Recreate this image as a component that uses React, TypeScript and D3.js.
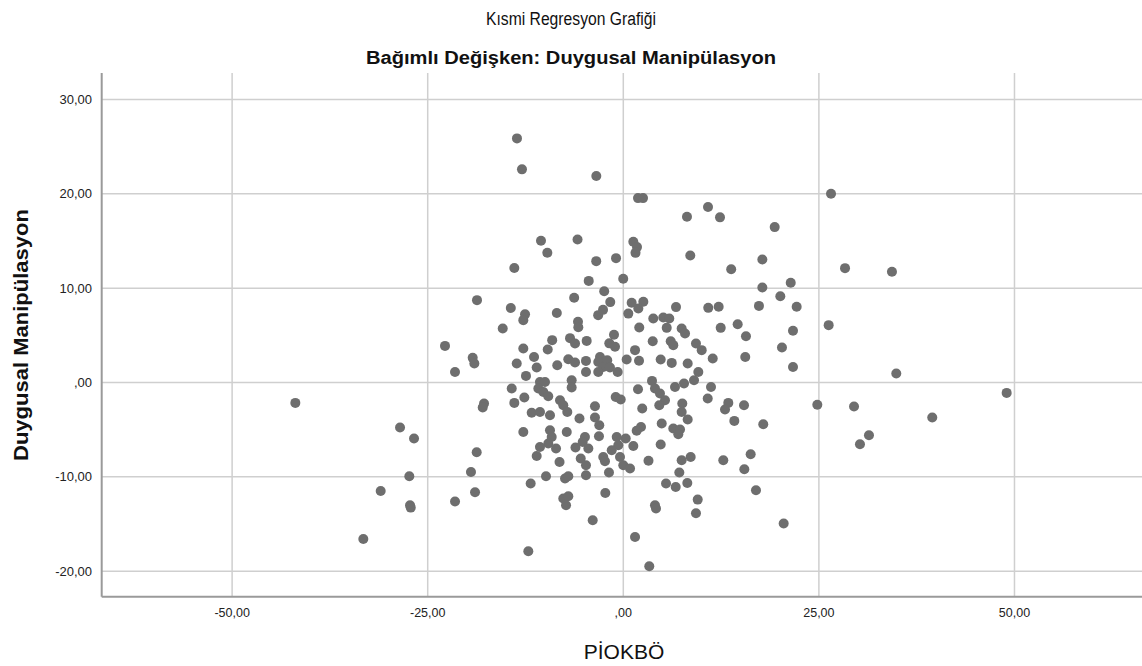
import React, { useEffect, useRef } from "react";
import * as d3 from "d3";

const titleText = "Kısmi Regresyon Grafiği";
const subtitleText = "Bağımlı Değişken: Duygusal Manipülasyon";
const xAxisTitle = "PİOKBÖ";
const yAxisTitle = "Duygusal Manipülasyon";

const xTicks = [-50, -25, 0, 25, 50];
const yTicks = [-20, -10, 0, 10, 20, 30];

// PİOKBÖ (partial residual)
const xValues = [
  -13.59, -12.95, -3.45, 1.88, 2.52, -10.52, -9.71, -5.85, -13.93, -3.46,
  -0.93, 1.28, 1.75, 1.56, -4.42, -0.01, -2.44, -1.67, -6.28, -18.7,
  -14.38, -12.56, -12.78, -8.5, -5.79, -5.75, -3.21, -2.59, 1.07, 2.56,
  1.92, 0.64, 2.04, -15.41, -1.19, -9.09, -6.81, -6.17, -4.68, -1.79,
  -1.06, 26.55, 8.14, 10.83, 12.36, 19.35, 8.56, 17.77, 13.79, 28.34,
  34.34, 17.77, 21.4, 20.07, 17.34, 22.16, 6.74, 10.86, 12.19, 3.83,
  5.11, 5.88, 5.55, 7.46, 7.89, 12.45, 14.62, 21.69, 26.25, 15.68,
  3.76, 6.06, 6.39, 9.29, 10.02, 20.28, 15.59, 21.69, 34.89, 2.01,
  4.78, 6.19, 8.23, 11.43, 9.59, 9.04, 3.67, 4.05, 4.69, 5.33,
  6.61, 7.76, 11.21, 10.79, 1.88, 2.42, 4.6, 7.54, 7.46, 8.23,
  13.42, 13.0, 15.43, 24.8, 29.49, 14.19, 17.89, 4.91, 2.26, 6.39,
  7.25, 7.03, 31.4, 30.25, 4.78, 3.22, 7.46, 8.61, 12.78, 16.28,
  15.47, 7.16, 5.46, 6.7, 8.18, 16.96, 4.05, 4.18, 9.51, 9.29,
  20.5, 3.32, -22.79, -19.25, -19.04, -21.51, -12.78, -11.41, -9.66, -13.62,
  -11.07, -12.44, -8.44, -7.03, -6.17, -4.77, -2.98, -3.2, -2.05, -2.56,
  -1.7, -3.2, -4.77, -0.72, 0.43, 1.5, -6.6, -6.6, -10.65, -10.01,
  -10.86, -10.22, -9.59, -14.26, -12.65, -13.93, -17.8, -17.97, -11.71, -10.65,
  -9.37, -8.09, -7.67, -7.16, -5.6, -3.62, -3.62, -3.07, -3.11, -0.97,
  -0.33, 0.31, -0.84, -0.64, -1.48, -2.56, -2.34, -0.42, 0.0, 0.86,
  -1.83, -7.23, -9.37, -9.15, -9.59, -8.6, -10.65, -11.07, -12.78, -8.15,
  -6.11, -4.9, -5.19, -4.47, -5.44, -4.77, -4.77, -9.88, -7.45, -7.03,
  -11.84, -2.3, -7.67, -7.03, -7.32, -3.91, 1.5, -12.14, -18.74, -19.47,
  -18.95, -21.51, -28.54, -26.75, -27.35, -31.01, -27.26, -27.17, -41.92, -33.23,
  49.0, 39.49, 1.28, 1.71,
];

// Duygusal Manipülasyon (partial residual)
const yValues = [
  25.87, 22.59, 21.88, 19.54, 19.54, 15.02, 13.76, 15.16, 12.14, 12.86,
  13.18, 14.91, 14.35, 13.74, 10.77, 10.99, 9.68, 8.52, 8.99, 8.73,
  7.9, 7.22, 6.61, 7.37, 6.43, 5.86, 7.14, 7.7, 8.46, 8.55,
  7.85, 7.3, 5.83, 5.73, 5.07, 4.49, 4.7, 4.14, 4.41, 4.15,
  3.78, 20.0, 17.56, 18.59, 17.5, 16.47, 13.45, 13.04, 12.01, 12.12,
  11.73, 10.07, 10.58, 9.15, 8.12, 8.02, 7.99, 7.91, 8.02, 6.79,
  6.89, 6.79, 5.79, 5.73, 5.2, 5.79, 6.18, 5.49, 6.08, 4.91,
  4.38, 4.38, 3.96, 4.14, 3.43, 3.71, 2.71, 1.65, 0.95, 2.31,
  2.44, 2.08, 2.01, 2.55, 1.12, 0.24, 0.17, -0.64, -1.17, -1.88,
  -0.47, -0.11, -0.47, -1.7, -0.71, -2.76, -2.41, -2.23, -3.12, -3.92,
  -2.16, -2.86, -2.41, -2.35, -2.55, -4.07, -4.42, -4.35, -4.71, -4.88,
  -4.98, -5.48, -5.59, -6.54, -6.57, -8.29, -8.24, -7.89, -8.24, -7.6,
  -9.19, -9.54, -10.71, -11.07, -10.65, -11.42, -13.01, -13.36, -12.41, -13.86,
  -14.95, -19.48, 3.88, 2.61, 2.01, 1.12, 3.61, 2.71, 3.5, 2.01,
  1.59, 0.7, 1.83, 2.47, 2.12, 2.29, 2.71, 2.18, 2.36, 1.65,
  1.59, 1.12, 1.12, 1.12, 2.44, 3.43, 0.24, -0.53, 0.06, 0.06,
  -0.64, -1.0, -1.45, -0.64, -1.59, -2.16, -2.23, -2.65, -3.2, -3.12,
  -3.47, -1.88, -2.41, -3.12, -3.82, -2.51, -3.71, -4.53, -5.69, -1.53,
  -1.8, -5.94, -5.77, -6.65, -7.18, -7.89, -8.35, -7.89, -8.77, -9.12,
  -9.54, -5.24, -5.06, -5.77, -6.47, -7.0, -6.83, -7.78, -5.24, -8.42,
  -6.89, -5.77, -6.3, -7.0, -8.06, -8.77, -9.83, -9.94, -10.18, -9.94,
  -10.71, -11.71, -12.3, -12.06, -13.01, -14.6, -16.37, -17.89, -7.39, -9.48,
  -11.63, -12.62, -4.77, -5.94, -9.94, -11.5, -13.01, -13.26, -2.16, -16.59,
  -1.1, -3.71, -6.72, -5.11,
];

const fmt = (v: number) => {
  if (v === 0) return ",00";
  return d3.format(".2f")(v).replace(".", ",").replace("−", "-");
};

export default function App() {
  const ref = useRef<SVGSVGElement>(null);

  useEffect(() => {
    document.body.style.margin = "0";
    const W = 1142;
    const H = 666;
    const svg = d3.select(ref.current);
    svg.selectAll("*").remove();

    const left = 101.7;
    const top = 73;
    const bottom = 596.7;
    const x = d3.scaleLinear().domain([-66.67, 66.67]).range([left, 1144.9]);
    const y = d3.scaleLinear().domain([-22.7, 32.8]).range([bottom, top]);

    const font = "'Liberation Sans', Arial, sans-serif";

    svg.append("rect").attr("width", W).attr("height", H).attr("fill", "#ffffff");

    // grid lines
    const grid = svg.append("g");
    grid
      .selectAll("line.v")
      .data(xTicks)
      .join("line")
      .attr("x1", (d) => x(d))
      .attr("x2", (d) => x(d))
      .attr("y1", top)
      .attr("y2", bottom)
      .attr("stroke", "#cfcfcf")
      .attr("stroke-width", 1.5);
    grid
      .selectAll("line.h")
      .data(yTicks)
      .join("line")
      .attr("x1", left)
      .attr("x2", W)
      .attr("y1", (d) => y(d))
      .attr("y2", (d) => y(d))
      .attr("stroke", "#cfcfcf")
      .attr("stroke-width", 1.5);

    // axis lines
    svg
      .append("line")
      .attr("x1", left)
      .attr("x2", left)
      .attr("y1", top)
      .attr("y2", bottom)
      .attr("stroke", "#9a9a9a")
      .attr("stroke-width", 2);
    svg
      .append("line")
      .attr("x1", left)
      .attr("x2", W)
      .attr("y1", bottom)
      .attr("y2", bottom)
      .attr("stroke", "#9a9a9a")
      .attr("stroke-width", 2);

    // tick labels
    svg
      .append("g")
      .selectAll("text")
      .data(yTicks)
      .join("text")
      .attr("x", 92)
      .attr("y", (d) => y(d))
      .attr("dy", "0.35em")
      .attr("text-anchor", "end")
      .attr("font-family", font)
      .attr("font-size", 13)
      .attr("fill", "#222")
      .text((d) => fmt(d));
    svg
      .append("g")
      .selectAll("text")
      .data(xTicks)
      .join("text")
      .attr("x", (d) => x(d))
      .attr("y", 617)
      .attr("text-anchor", "middle")
      .attr("font-family", font)
      .attr("font-size", 12.5)
      .attr("fill", "#222")
      .text((d) => fmt(d));

    // points
    const pts = xValues.map((v, i) => [v, yValues[i]] as [number, number]);
    svg
      .append("g")
      .selectAll("circle")
      .data(pts)
      .join("circle")
      .attr("cx", (d) => x(d[0]))
      .attr("cy", (d) => y(d[1]))
      .attr("r", 5)
      .attr("fill", "#6e6e6e");

    // titles
    svg
      .append("text")
      .attr("x", 571)
      .attr("y", 25)
      .attr("text-anchor", "middle")
      .attr("font-family", font)
      .attr("font-size", 18)
      .attr("textLength", 170)
      .attr("lengthAdjust", "spacingAndGlyphs")
      .attr("fill", "#111")
      .text(titleText);
    svg
      .append("text")
      .attr("x", 571)
      .attr("y", 64)
      .attr("text-anchor", "middle")
      .attr("font-family", font)
      .attr("font-size", 18)
      .attr("font-weight", "bold")
      .attr("textLength", 410)
      .attr("lengthAdjust", "spacingAndGlyphs")
      .attr("fill", "#111")
      .text(subtitleText);

    svg
      .append("text")
      .attr("x", 624)
      .attr("y", 659)
      .attr("text-anchor", "middle")
      .attr("font-family", font)
      .attr("font-size", 21)
      .attr("fill", "#111")
      .text(xAxisTitle);

    svg
      .append("text")
      .attr("transform", `translate(28,335) rotate(-90)`)
      .attr("text-anchor", "middle")
      .attr("font-family", font)
      .attr("font-size", 20)
      .attr("font-weight", "bold")
      .attr("textLength", 252)
      .attr("lengthAdjust", "spacingAndGlyphs")
      .attr("fill", "#111")
      .text(yAxisTitle);
  }, []);

  return (
    <svg
      ref={ref}
      width={1142}
      height={666}
      style={{ position: "absolute", left: 0, top: 0, display: "block" }}
    />
  );
}
